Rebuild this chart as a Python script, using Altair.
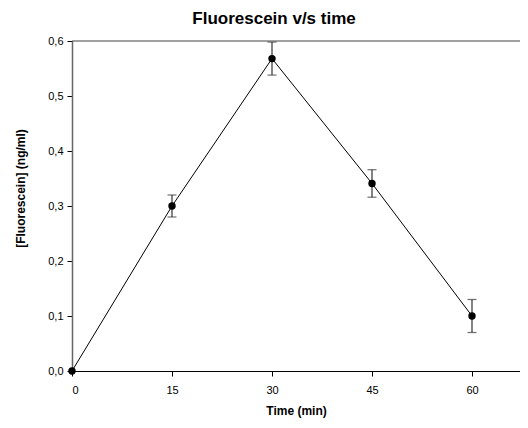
import altair as alt
import pandas as pd

time_min = [0, 15, 30, 45, 60]
fluorescein = [0.0, 0.30, 0.568, 0.341, 0.10]
error = [0.0, 0.02, 0.03, 0.025, 0.03]
x_ticks = [0, 15, 30, 45, 60]
y_ticks = [0.0, 0.1, 0.2, 0.3, 0.4, 0.5, 0.6]

df = pd.DataFrame({"t": time_min, "f": fluorescein, "e": error})
df["lo"] = df["f"] - df["e"]
df["hi"] = df["f"] + df["e"]

xs = alt.Scale(domain=[0, 67.2], nice=False, zero=False)
ys = alt.Scale(domain=[0, 0.6], nice=False)

xax = alt.Axis(values=x_ticks, title="Time (min)", grid=False, domainColor="black",
               tickColor="black", tickSize=5, labelFont="Liberation Sans", labelFontSize=11,
               labelColor="black", labelPadding=8, titleFont="Liberation Sans", titleFontSize=12,
               titleFontWeight="bold", titleColor="black", titlePadding=10)
yax = alt.Axis(values=y_ticks, title="[Fluorescein] (ng/ml)", grid=False, domainColor="#666666",
               domainWidth=1.5, tickColor="black", tickSize=5,
               labelExpr="replace(format(datum.value, '.1f'), '.', ',')",
               labelFont="Liberation Sans", labelFontSize=11, labelColor="black", labelPadding=4,
               titleFont="Liberation Sans", titleFontSize=12, titleFontWeight="bold",
               titleColor="black", titlePadding=20, titleY=147)

base = alt.Chart(df)

line = base.mark_line(color="black", strokeWidth=1).encode(
    x=alt.X("t:Q", scale=xs, axis=xax),
    y=alt.Y("f:Q", scale=ys, axis=yax),
)
bars = base.transform_filter("datum.e > 0").mark_rule(color="#333333", strokeWidth=1.2).encode(
    x="t:Q", y="lo:Q", y2="hi:Q")
cap_lo = base.transform_filter("datum.e > 0").mark_tick(color="#333333", thickness=1.2, size=9, orient="horizontal").encode(
    x="t:Q", y="lo:Q")
cap_hi = base.transform_filter("datum.e > 0").mark_tick(color="#333333", thickness=1.2, size=9, orient="horizontal").encode(
    x="t:Q", y="hi:Q")
pts = base.mark_circle(color="black", size=55, opacity=1).encode(x="t:Q", y="f:Q")
top = alt.Chart(pd.DataFrame({"v": [0.6]})).mark_rule(color="#444444", strokeWidth=1.2).encode(
    y=alt.Y("v:Q", scale=ys))

chart = alt.layer(line, bars, cap_lo, cap_hi, top, pts).properties(
    width=448, height=330,
    title=alt.TitleParams("Fluorescein v/s time", font="Liberation Sans", fontSize=17,
                          fontWeight="bold", color="black", dx=-22, offset=7),
    autosize=alt.AutoSizeParams(type="none"),
    padding={"left": 64, "top": 33, "right": 0, "bottom": 47},
).configure_view(stroke=None)

chart.save("out.html", embed_options={"renderer": "svg", "actions": False})
